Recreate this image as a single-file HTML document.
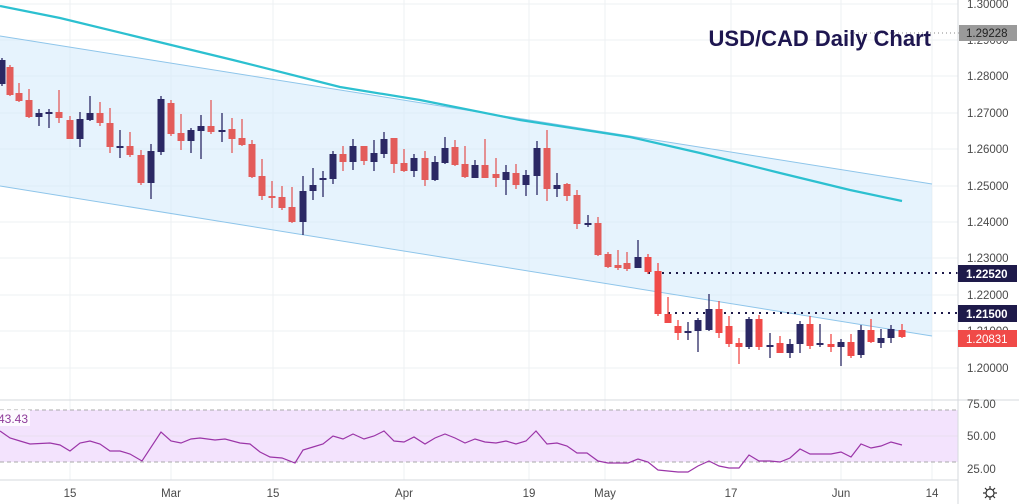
<!DOCTYPE html>
<html><head><meta charset="utf-8"><style>
html,body{margin:0;padding:0;background:#fff;overflow:hidden}
svg{display:block;font-family:"Liberation Sans",sans-serif}
</style></head><body>
<svg id="s" width="1019" height="504" xmlns="http://www.w3.org/2000/svg">
<rect width="1019" height="504" fill="#fff"/>
<g stroke="#eef0f3" stroke-width="1">
<line x1="0" y1="40" x2="958" y2="40"/><line x1="0" y1="76" x2="958" y2="76"/><line x1="0" y1="113" x2="958" y2="113"/><line x1="0" y1="149" x2="958" y2="149"/><line x1="0" y1="186" x2="958" y2="186"/><line x1="0" y1="222" x2="958" y2="222"/><line x1="0" y1="258" x2="958" y2="258"/><line x1="0" y1="295" x2="958" y2="295"/><line x1="0" y1="331" x2="958" y2="331"/><line x1="0" y1="368" x2="958" y2="368"/><line x1="0" y1="4" x2="958" y2="4"/>
<line x1="70" y1="0" x2="70" y2="480"/><line x1="171" y1="0" x2="171" y2="480"/><line x1="273" y1="0" x2="273" y2="480"/><line x1="404" y1="0" x2="404" y2="480"/><line x1="529" y1="0" x2="529" y2="480"/><line x1="605" y1="0" x2="605" y2="480"/><line x1="731" y1="0" x2="731" y2="480"/><line x1="841" y1="0" x2="841" y2="480"/><line x1="932" y1="0" x2="932" y2="480"/>
</g>
<polygon points="0,36 932,184 932,336 0,186" fill="#d6ebfb" fill-opacity="0.6"/>
<line x1="0" y1="36" x2="932" y2="184" stroke="#8ec5ea" stroke-width="1"/>
<line x1="0" y1="186" x2="932" y2="336" stroke="#8ec5ea" stroke-width="1"/>
<polyline points="0,6 60,18 130,35 200,52 233,60 340,87 420,100 520,120 630,137 700,153 780,173 850,190 902,201" fill="none" stroke="#2cc0d0" stroke-width="2.2"/>
<line x1="850" y1="33" x2="958" y2="33" stroke="#888" stroke-dasharray="1,3"/>
<line x1="648" y1="273" x2="958" y2="273" stroke="#1e1a4a" stroke-width="2" stroke-dasharray="2,5"/>
<line x1="668" y1="313" x2="958" y2="313" stroke="#1e1a4a" stroke-width="2" stroke-dasharray="2,5"/>
<g id="c"></g>
<text x="931" y="46" text-anchor="end" font-size="22" font-weight="bold" fill="#1e1650">USD/CAD Daily Chart</text>
<line x1="0" y1="400" x2="1019" y2="400" stroke="#d6d9de"/>
<rect x="0" y="410" width="958" height="52" fill="#f3e3fd"/>
<line x1="0" y1="410" x2="958" y2="410" stroke="#aaa" stroke-dasharray="4,3"/>
<line x1="0" y1="462" x2="958" y2="462" stroke="#aaa" stroke-dasharray="4,3"/>
<line x1="0" y1="436" x2="958" y2="436" stroke="#e8dff0"/>
<polyline fill="none" stroke="#9b35a8" stroke-width="1.2" points="0,431 10,438 20,441 30,444 50,443 60,445 70,451 80,443 90,441 100,444 110,451 120,451 130,454 142,461 161,432 171,441 181,443 191,439 200,438 215,440 225,439 240,443 250,444 260,452 270,457 282,458 295,463 303,450 313,447 323,444 333,436 343,439 353,434 364,439 374,436 384,431 394,441 404,442 414,437 425,444 435,438 445,434 455,438 465,443 475,439 485,442 496,443 506,441 516,444 526,441 536,431 547,444 557,443 567,446 577,453 587,453 598,461 608,463 618,463 628,463 638,459 648,462 658,470 668,471 678,472 688,472 698,466 709,461 719,466 729,468 739,468 749,455 759,461 770,461 780,462 790,458 800,449 810,454 820,454 831,454 841,452 851,457 861,444 871,448 881,446 891,442 902,445"/>
<rect x="0" y="410" width="30" height="16" fill="#fff" fill-opacity="0.8"/>
<text x="-2" y="423" font-size="12" fill="#8e3b9a">43.43</text>
<line x1="0" y1="480" x2="958" y2="480" stroke="#d6d9de"/>
<line x1="958" y1="0" x2="958" y2="504" stroke="#d6d9de"/>
<g font-size="11.5" fill="#4a4a4a" text-anchor="middle">
<text x="70" y="497">15</text><text x="171" y="497">Mar</text><text x="273" y="497">15</text><text x="404" y="497">Apr</text><text x="529" y="497">19</text><text x="605" y="497">May</text><text x="731" y="497">17</text><text x="841" y="497">Jun</text><text x="932" y="497">14</text>
</g>
<g font-size="11.5" fill="#4a4a4a">
<text x="967" y="8">1.30000</text><text x="967" y="44">1.29000</text><text x="967" y="80">1.28000</text><text x="967" y="117">1.27000</text><text x="967" y="153">1.26000</text><text x="967" y="190">1.25000</text><text x="967" y="226">1.24000</text><text x="967" y="262">1.23000</text><text x="967" y="299">1.22000</text><text x="967" y="335">1.21000</text><text x="967" y="372">1.20000</text>
<text x="967" y="408">75.00</text><text x="967" y="440">50.00</text><text x="967" y="473">25.00</text>
</g>
<g stroke="#999"><line x1="958" y1="33" x2="962" y2="33"/></g>
<rect x="959" y="25" width="58" height="16" fill="#9a9a9a"/><text x="966" y="37" font-size="11.5" fill="#222">1.29228</text>
<rect x="958" y="265" width="59" height="17" fill="#1e1a4a"/><text x="966" y="278" font-size="11.5" font-weight="bold" fill="#fff">1.22520</text>
<rect x="958" y="305" width="59" height="17" fill="#1e1a4a"/><text x="966" y="318" font-size="11.5" font-weight="bold" fill="#fff">1.21500</text>
<rect x="958" y="330" width="59" height="17" fill="#f04a48"/><text x="966" y="343" font-size="11.5" fill="#fff">1.20831</text>
<g stroke="#333" fill="none" stroke-width="1.2"><circle cx="990" cy="493" r="4"/>
<path d="M990 486v3M990 497v3M983 493h3M994 493h3M985 488l2 2M993 496l2 2M995 488l-2 2M987 496l-2 2"/></g>
</svg>
<script>
var R="#e35c5a",D="#2b2864";
var d=[
[2,"d",60,84,58,86],[10,"r",67,95,65,96],[19,"r",93,101,83,102],[29,"r",100,117,89,118],[39,"d",113,117,109,126],[49,"d",112,114,109,128],[59,"r",112,118,90,123],[70,"r",120,139,116,139],[80,"d",119,139,112,147],[90,"d",113,120,96,121],[100,"r",113,123,102,126],[110,"r",123,147,108,153],[120,"d",146,147,130,158],[130,"r",146,155,132,157],[141,"r",155,183,150,185],[151,"d",151,183,144,199],[161,"d",99,152,96,155],[171,"r",103,134,100,136],[181,"r",133,141,114,150],[191,"d",130,141,128,153],[201,"d",126,131,115,159],[211,"r",126,132,100,134],[222,"d",130,132,113,142],[232,"r",129,139,118,153],[242,"r",138,145,119,146],[252,"r",144,177,140,178],[262,"r",176,196,159,200],[272,"r",196,198,181,208],[282,"r",197,208,186,210],[292,"r",207,222,187,223],[303,"d",191,222,176,235],[313,"d",185,191,168,200],[323,"d",178,180,171,197],[333,"d",154,179,151,184],
[343,"r",154,162,146,171],[353,"d",146,162,139,170],[364,"r",146,161,146,165],[374,"d",153,162,140,171],[384,"d",139,154,132,158],[394,"r",138,164,138,173],[404,"r",163,171,149,172],[414,"d",158,171,154,177],[425,"r",158,180,151,186],[435,"d",162,180,156,181],[445,"d",148,163,137,164],[455,"r",147,165,140,166],[465,"r",164,177,146,178],[475,"d",165,178,160,178],[485,"r",165,178,139,178],[496,"r",174,178,158,187],[506,"d",172,180,165,195],[516,"r",173,185,164,189],[526,"d",175,185,170,196],[537,"d",148,176,141,195],[547,"r",148,189,130,201],[557,"d",185,189,173,197],[567,"r",184,196,183,201],[577,"r",195,224,190,229],[588,"d",223,225,215,227],[598,"r",223,255,217,256],[608,"r",254,267,252,268],[618,"r",265,268,250,270],
[627,"r",263,269,252,271],[638,"d",257,268,240,268],[648,"r",257,272,254,274],[658,"r",271,314,263,316],[668,"r",314,323,297,323],[678,"r",326,333,320,340],[688,"d",331,332,322,340],[698,"d",320,331,318,352],[709,"d",309,330,294,331],[719,"r",309,333,301,338],[729,"r",326,344,316,347],[739,"r",343,347,338,364],[749,"d",319,347,317,349],[759,"r",319,347,315,350],[770,"d",345,347,333,358],[780,"r",343,353,336,353],[790,"d",344,353,339,358],[800,"d",324,344,321,353],[810,"r",324,346,316,349],[820,"d",343,345,324,347],[831,"r",344,347,334,352],[841,"d",342,347,339,366],[851,"r",342,356,334,358],[861,"d",330,355,325,358],[871,"r",330,342,319,343],[881,"d",338,343,329,348],[891,"d",329,338,325,343],[902,"r",330,337,324,338]];
var h="";d.forEach(function(c){var col=c[1]=="r"?(c[0]>640?"#f04a48":R):D;
h+='<line x1="'+c[0]+'" x2="'+c[0]+'" y1="'+c[4]+'" y2="'+c[5]+'" stroke="'+col+'" stroke-width="1.3"/>';
var hh=Math.max(2,c[3]-c[2]);h+='<rect x="'+(c[0]-3.5)+'" y="'+c[2]+'" width="7" height="'+hh+'" fill="'+col+'"/>';});
document.getElementById("c").innerHTML=h;
</script>
</body></html>
